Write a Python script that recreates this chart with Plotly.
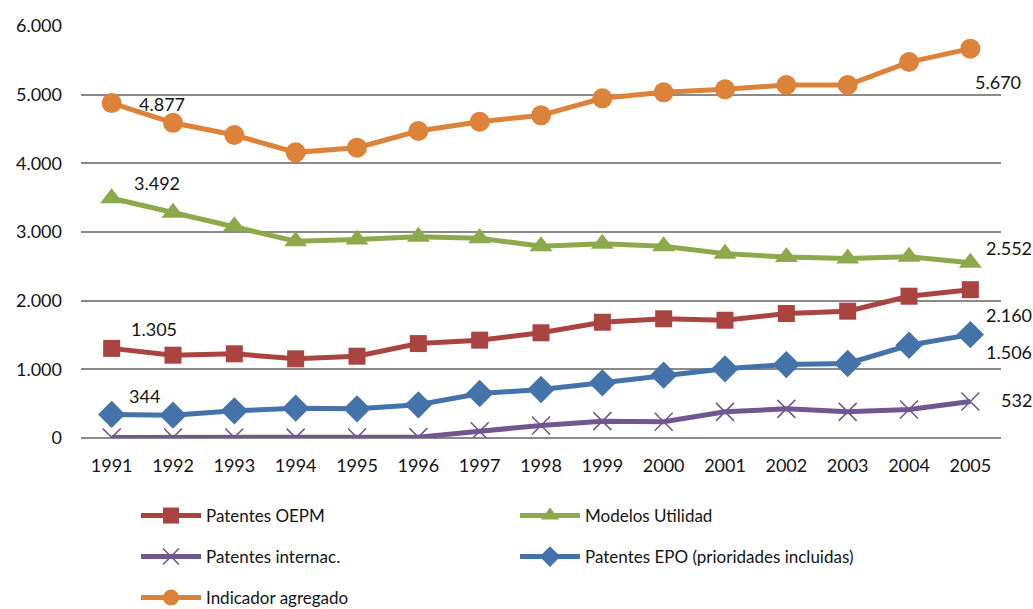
import plotly.graph_objects as go

years = [str(y) for y in range(1991, 2006)]

patentes_oepm = [1305, 1206, 1226, 1153, 1191, 1375, 1425, 1532, 1686, 1736, 1715, 1813, 1847, 2065, 2160]
modelos_utilidad = [3492, 3279, 3084, 2866, 2891, 2930, 2910, 2793, 2828, 2793, 2685, 2635, 2615, 2639, 2552]
patentes_internac = [8, 7, 7, 6, 8, 12, 99, 182, 245, 236, 381, 425, 381, 415, 532]
patentes_epo = [344, 332, 396, 434, 425, 483, 648, 706, 804, 915, 1008, 1070, 1085, 1351, 1506]
indicador_agregado = [4877, 4590, 4412, 4160, 4228, 4471, 4606, 4699, 4947, 5034, 5078, 5140, 5140, 5475, 5670]

y_ticks = [0, 1000, 2000, 3000, 4000, 5000, 6000]

FONT = "Lato, 'Open Sans', sans-serif"
TXT = "#141414"

series = [
    ("Patentes OEPM", patentes_oepm, "#A94441", "square", 17, "legend"),
    ("Modelos Utilidad", modelos_utilidad, "#8CA94B", "triangle-up", 20, "legend"),
    ("Patentes internac.", patentes_internac, "#71578F", "x-thin", 18, "legend2"),
    ("Patentes EPO (prioridades incluidas)", patentes_epo, "#4473A9", "diamond", 21, "legend2"),
    ("Indicador agregado", indicador_agregado, "#DD8239", "circle", 20, "legend3"),
]

fig = go.Figure()
for name, vals, color, sym, size, leg in series:
    marker = dict(symbol=sym, size=size, color=color)
    if sym == "x-thin":
        marker["line"] = dict(color=color, width=1.6)
    fig.add_trace(go.Scatter(
        x=years, y=vals, name=name, mode="lines+markers",
        line=dict(color=color, width=5),
        marker=marker, legend=leg,
    ))


def fmt(v):
    return f"{v:,}".replace(",", ".")


# value labels at the first and last year: (series, index, xshift, yshift)
labels = [
    (indicador_agregado, 0, 25, -1),
    (modelos_utilidad, 0, 20, 15),
    (patentes_oepm, 0, 17, 19),
    (patentes_epo, 0, 15, 18),
    (indicador_agregado, 14, 3, -33),
    (modelos_utilidad, 14, 14, 15),
    (patentes_oepm, 14, 14, -25),
    (patentes_epo, 14, 14, -17),
    (patentes_internac, 14, 29, 1),
]
for vals, i, dx, dy in labels:
    # on a category axis annotations are positioned by category index
    fig.add_annotation(
        x=i, y=vals[i], xref="x", yref="y",
        text=fmt(vals[i]), showarrow=False,
        xanchor="left", yanchor="middle", xshift=dx, yshift=dy,
        font=dict(family=FONT, size=18, color=TXT),
    )

legend_common = dict(
    orientation="h", xref="container", yref="container",
    xanchor="left", yanchor="middle", x=136 / 1033,
    bgcolor="rgba(0,0,0,0)", itemwidth=60,
    entrywidth=304, entrywidthmode="pixels",
    font=dict(family=FONT, size=17, color=TXT),
    itemclick=False, itemdoubleclick=False,
)

fig.update_layout(
    width=1033, height=609,
    margin=dict(l=81, r=32, t=26, b=171),
    paper_bgcolor="white", plot_bgcolor="white",
    separators=",.",
    font=dict(family=FONT, size=18, color=TXT),
    showlegend=True,
    legend=dict(legend_common, y=1 - 516 / 609),
    legend2=dict(legend_common, y=1 - 557 / 609),
    legend3=dict(legend_common, y=1 - 598 / 609),
    xaxis=dict(
        type="category", range=[-0.5, 14.5], showgrid=False, zeroline=False,
        showline=False, ticks="", ticklabelstandoff=15,
        tickfont=dict(family=FONT, size=18, color=TXT),
    ),
    yaxis=dict(
        range=[0, 6000], tickvals=y_ticks, tickformat=",.0f",
        showgrid=True, gridcolor="#8A8A8A", gridwidth=1.8,
        zeroline=True, zerolinecolor="#8A8A8A", zerolinewidth=1.8,
        showline=False, ticks="", ticklabelstandoff=18,
        tickfont=dict(family=FONT, size=18, color=TXT),
    ),
)

fig.write_html("out.html")
